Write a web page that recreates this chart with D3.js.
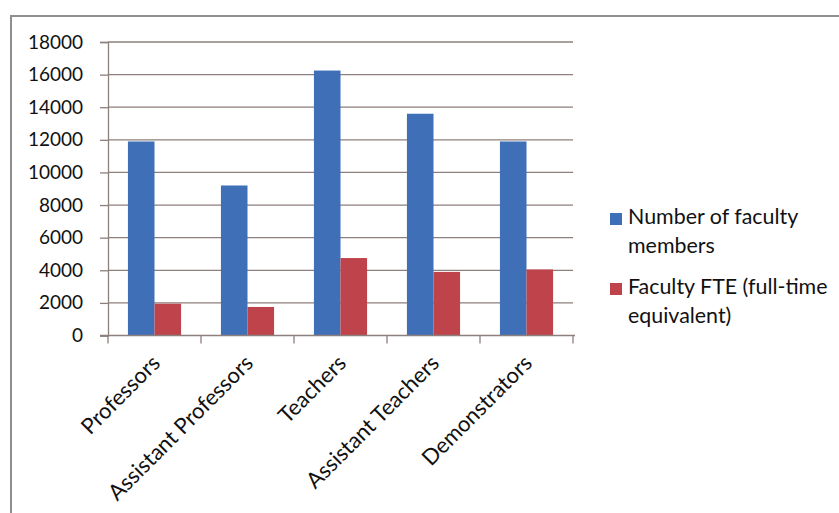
<!DOCTYPE html>
<html>
<head>
<meta charset="utf-8">
<script src="https://cdn.jsdelivr.net/npm/d3@7"></script>
<style>
  html, body { margin: 0; padding: 0; background: #fff; }
  svg { display: block; font-family: Lato, "Open Sans", sans-serif; }
</style>
</head>
<body>
<svg id="chart" width="839" height="513"></svg>
<script>
// Faculty counts by academic rank
const categories = ["Professors", "Assistant Professors", "Teachers", "Assistant Teachers", "Demonstrators"];
const seriesNames = ["Number of faculty members", "Faculty FTE (full-time equivalent)"];
const facultyMembers = [11900, 9200, 16250, 13600, 11900];
const facultyFTE = [1950, 1750, 4750, 3900, 4050];
const yTicks = [0, 2000, 4000, 6000, 8000, 10000, 12000, 14000, 16000, 18000];
const legendLines = [["Number of faculty", "members"], ["Faculty FTE (full-time", "equivalent)"]];
const colors = ["#3f6fb6", "#bf434b"];

const svg = d3.select("#chart");
const gridColor = "#8c7f7d";

// outer frame (top and left edges)
svg.append("path")
  .attr("d", "M11,513 L11,16 L839,16")
  .attr("fill", "none")
  .attr("stroke", "#8f8f8f")
  .attr("stroke-width", 2);

const plot = { left: 108, right: 573, top: 42, bottom: 335.5 };

const y = d3.scaleLinear().domain([0, 18000]).range([plot.bottom, plot.top]);
const x0 = d3.scaleBand().domain(categories).range([plot.left, plot.right]).paddingInner(0).paddingOuter(0);
const x1 = d3.scaleBand().domain(seriesNames).range([0, x0.bandwidth()]).paddingInner(0).paddingOuter(0.75);

// horizontal gridlines
svg.append("g")
  .selectAll("line")
  .data(yTicks.filter(d => d > 0))
  .join("line")
  .attr("x1", plot.left)
  .attr("x2", plot.right)
  .attr("y1", d => y(d))
  .attr("y2", d => y(d))
  .attr("stroke", gridColor)
  .attr("stroke-width", 1.3);

// bars
const rows = categories.map((c, i) => ({ cat: c, vals: [facultyMembers[i], facultyFTE[i]] }));
svg.append("g")
  .selectAll("g")
  .data(rows)
  .join("g")
  .attr("transform", d => `translate(${x0(d.cat)},0)`)
  .selectAll("rect")
  .data(d => d.vals.map((v, k) => ({ name: seriesNames[k], v, k })))
  .join("rect")
  .attr("x", d => x1(d.name))
  .attr("width", x1.bandwidth())
  .attr("y", d => y(d.v))
  .attr("height", d => y(0) - y(d.v))
  .attr("fill", d => colors[d.k]);

// y axis
const yAxis = svg.append("g")
  .attr("transform", `translate(${plot.left},0)`)
  .call(d3.axisLeft(y).tickValues(yTicks).tickSize(8).tickPadding(17).tickFormat(d3.format("d")));
yAxis.select(".domain").attr("stroke", gridColor).attr("stroke-width", 1.3);
yAxis.selectAll(".tick line").attr("stroke", gridColor).attr("stroke-width", 1.3);
yAxis.selectAll(".tick text")
  .attr("font-size", 19)
  .attr("fill", "#111")
  .attr("font-family", "Lato, sans-serif");

// x axis line with ticks at category boundaries
const xAxis = svg.append("g");
xAxis.append("line")
  .attr("x1", plot.left - 8)
  .attr("x2", plot.right + 2)
  .attr("y1", plot.bottom)
  .attr("y2", plot.bottom)
  .attr("stroke", gridColor)
  .attr("stroke-width", 1.3);
const bounds = categories.map(c => x0(c)).concat([x0(categories[categories.length - 1]) + x0.bandwidth()]);
xAxis.selectAll("line.tk")
  .data(bounds)
  .join("line")
  .attr("class", "tk")
  .attr("x1", d => d)
  .attr("x2", d => d)
  .attr("y1", plot.bottom)
  .attr("y2", plot.bottom + 8)
  .attr("stroke", gridColor)
  .attr("stroke-width", 1.3);

// rotated category labels
xAxis.selectAll("text")
  .data(categories)
  .join("text")
  .attr("transform", d => `translate(${x0(d) + x0.bandwidth() / 2 + 7},${plot.bottom + 29}) rotate(-45)`)
  .attr("text-anchor", "end")
  .attr("font-size", 22)
  .attr("fill", "#111")
  .text(d => d);

// legend
const legend = svg.append("g");
const legendY = [213, 283];
legendLines.forEach((lines, k) => {
  const g = legend.append("g");
  g.append("rect")
    .attr("x", 610)
    .attr("y", legendY[k])
    .attr("width", 12)
    .attr("height", 12)
    .attr("fill", colors[k]);
  lines.forEach((t, j) => {
    g.append("text")
      .attr("x", 628)
      .attr("y", legendY[k] + 11 + j * 29)
      .attr("font-size", 21.4)
      .attr("fill", "#111")
      .text(t);
  });
});
</script>
</body>
</html>
